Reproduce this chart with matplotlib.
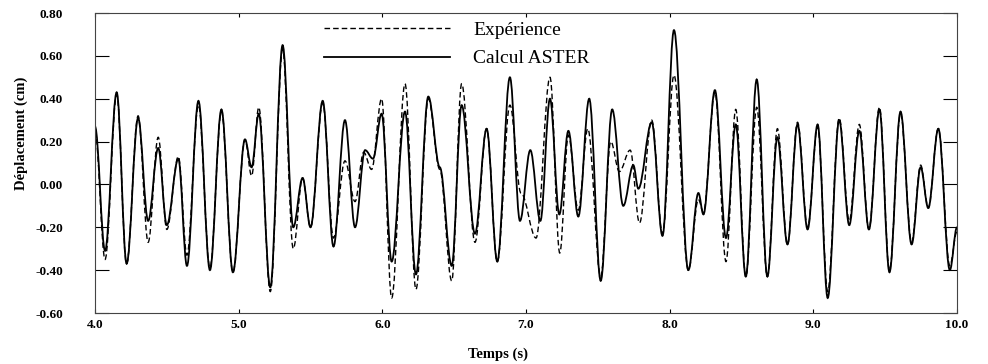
import matplotlib
matplotlib.use("Agg")
import matplotlib.pyplot as plt
from matplotlib.path import Path
from matplotlib.patches import PathPatch
from matplotlib.lines import Line2D
from matplotlib.ticker import FormatStrFormatter, MultipleLocator

plt.rcParams['font.family'] = ['Liberation Serif', 'DejaVu Serif']
plt.rcParams['axes.unicode_minus'] = False

# extrema (time in s, displacement in cm)
t_calc = [4.00, 4.07, 4.151, 4.22, 4.30, 4.37, 4.44, 4.50, 4.58, 4.64, 4.72, 4.80,
          4.88, 4.96, 5.044, 5.09, 5.14, 5.22, 5.306, 5.38, 5.445, 5.50, 5.585, 5.66,
          5.74, 5.81, 5.88, 5.935, 5.995, 6.065, 6.158, 6.234, 6.32, 6.40, 6.483, 6.552,
          6.645, 6.726, 6.80, 6.888, 6.958, 7.03, 7.10, 7.167, 7.232, 7.295, 7.364, 7.44,
          7.52, 7.60, 7.677, 7.747, 7.782, 7.875, 7.95, 8.03, 8.13, 8.20, 8.235, 8.315,
          8.392, 8.46, 8.53, 8.606, 8.68, 8.75, 8.82, 8.89, 8.96, 9.03, 9.10, 9.18,
          9.25, 9.32, 9.387, 9.46, 9.53, 9.607, 9.684, 9.747, 9.80, 9.87, 9.95, 10.0]
v_calc = [0.27, -0.31, 0.43, -0.37, 0.31, -0.17, 0.17, -0.19, 0.12, -0.38, 0.39, -0.40,
          0.35, -0.41, 0.21, 0.08, 0.33, -0.48, 0.65, -0.20, 0.03, -0.20, 0.39, -0.29,
          0.30, -0.20, 0.16, 0.12, 0.33, -0.36, 0.34, -0.42, 0.41, 0.08, -0.38, 0.37,
          -0.23, 0.26, -0.36, 0.50, -0.17, 0.16, -0.17, 0.40, -0.14, 0.25, -0.15, 0.40,
          -0.45, 0.35, -0.10, 0.09, -0.02, 0.29, -0.24, 0.72, -0.40, -0.04, -0.14, 0.44,
          -0.25, 0.28, -0.43, 0.49, -0.43, 0.22, -0.28, 0.28, -0.21, 0.28, -0.53, 0.30,
          -0.19, 0.25, -0.21, 0.35, -0.41, 0.34, -0.28, 0.08, -0.11, 0.26, -0.40, -0.20]

t_exp = [4.00, 4.07, 4.151, 4.22, 4.30, 4.37, 4.44, 4.50, 4.58, 4.64, 4.72, 4.80,
         4.88, 4.96, 5.044, 5.09, 5.14, 5.22, 5.306, 5.38, 5.445, 5.50, 5.585, 5.66,
         5.74, 5.81, 5.87, 5.925, 5.995, 6.065, 6.158, 6.234, 6.32, 6.40, 6.483, 6.552,
         6.645, 6.726, 6.80, 6.888, 6.965, 7.07, 7.167, 7.235, 7.295, 7.364, 7.43,
         7.52, 7.59, 7.65, 7.725, 7.79, 7.875, 7.95, 8.03, 8.13, 8.20, 8.235, 8.315,
         8.392, 8.46, 8.53, 8.606, 8.68, 8.75, 8.82, 8.89, 8.96, 9.03, 9.10, 9.18,
         9.25, 9.32, 9.387, 9.46, 9.53, 9.607, 9.684, 9.747, 9.80, 9.87, 9.95, 10.0]
v_exp = [0.25, -0.35, 0.42, -0.37, 0.32, -0.27, 0.22, -0.21, 0.13, -0.33, 0.37, -0.39,
         0.34, -0.41, 0.21, 0.04, 0.36, -0.50, 0.63, -0.30, 0.03, -0.20, 0.38, -0.25,
         0.11, -0.08, 0.15, 0.07, 0.40, -0.53, 0.47, -0.49, 0.40, 0.07, -0.45, 0.47,
         -0.27, 0.26, -0.36, 0.37, -0.04, -0.25, 0.50, -0.32, 0.23, -0.12, 0.26,
         -0.43, 0.20, 0.06, 0.16, -0.18, 0.30, -0.23, 0.51, -0.40, -0.07, -0.13, 0.43,
         -0.36, 0.35, -0.43, 0.36, -0.43, 0.26, -0.28, 0.29, -0.20, 0.27, -0.50, 0.31,
         -0.17, 0.28, -0.21, 0.36, -0.40, 0.33, -0.27, 0.09, -0.11, 0.26, -0.38, -0.22]

labels = ['Expérience', 'Calcul ASTER']


def courbe(t, v):
    # cubic bezier through the extrema, flat tangents at each one
    verts = [(t[0], v[0])]
    codes = [Path.MOVETO]
    for i in range(len(t) - 1):
        dt = t[i + 1] - t[i]
        verts += [(t[i] + dt * 0.36, v[i]), (t[i + 1] - dt * 0.36, v[i + 1]), (t[i + 1], v[i + 1])]
        codes += [Path.CURVE4] * 3
    return Path(verts, codes)


tirets = (0, (4, 2.2))

fig = plt.figure(figsize=(9.88, 3.64), dpi=100)
ax = fig.add_axes([95 / 988, 1 - 313 / 364, 862 / 988, 300 / 364])

ax.add_patch(PathPatch(courbe(t_exp, v_exp), fill=False, color='black', lw=1.0, linestyle=tirets))
ax.add_patch(PathPatch(courbe(t_calc, v_calc), fill=False, color='black', lw=1.3))

ax.set_xlim(4.0, 10.0)
ax.set_ylim(-0.6, 0.8)
ax.xaxis.set_major_locator(MultipleLocator(1.0))
ax.yaxis.set_major_locator(MultipleLocator(0.2))
ax.xaxis.set_major_formatter(FormatStrFormatter('%.1f'))
ax.yaxis.set_major_formatter(FormatStrFormatter('%.2f'))
ax.tick_params(axis='y', direction='in', length=10, width=0.8, left=True, right=True, pad=23,
               labelsize=9.5)
ax.tick_params(axis='x', direction='in', length=3, width=0.8, top=True, bottom=True, pad=4,
               labelsize=9.5)
for lab in ax.get_xticklabels() + ax.get_yticklabels():
    lab.set_fontweight('bold')
for sp in ax.spines.values():
    sp.set_linewidth(0.8)
    sp.set_color('#444444')

ax.set_ylabel('Déplacement (cm)', fontsize=10.5, fontweight='bold')
ax.yaxis.set_label_coords(-0.078, 0.6)
ax.set_xlabel('Temps (s)', fontsize=10.5, fontweight='bold')
ax.xaxis.set_label_coords(0.4675, -0.115)

handles = [Line2D([], [], color='black', lw=1.0, linestyle=tirets),
           Line2D([], [], color='black', lw=1.3)]
ax.legend(handles, labels, loc='upper left', bbox_to_anchor=(0.245, 1.03), frameon=False,
          handlelength=6.5, handletextpad=1.2, labelspacing=0.55, fontsize=14)

fig.savefig('out.png', dpi=100)
